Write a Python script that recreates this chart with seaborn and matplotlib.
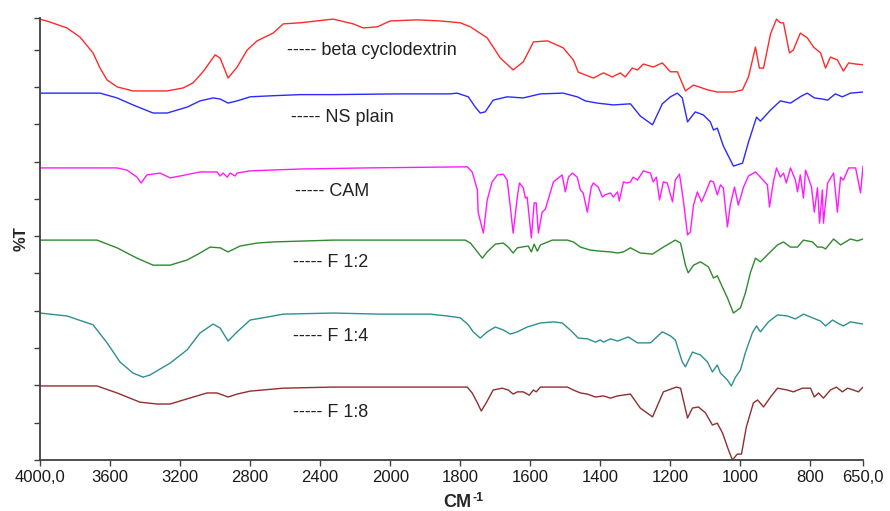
import numpy as np
import pandas as pd
import matplotlib
matplotlib.use('Agg')
import matplotlib.pyplot as plt
import seaborn as sns

# FTIR spectra, wavenumber (cm-1) vs %T (traces stacked with offsets)
wn_beta = [4000, 3943, 3846, 3771, 3697, 3657, 3617, 3560, 3469, 3274, 3183, 3126, 3069, 3000, 2971, 2926, 2874, 2817,
           2760, 2669, 2611, 2514, 2326, 2211, 2154, 2074, 2000, 1923, 1857, 1800, 1771, 1723, 1686, 1649, 1620, 1591,
           1551, 1506, 1477, 1463, 1420, 1391, 1366, 1343, 1329, 1309, 1294, 1277, 1249, 1223, 1200, 1180, 1157, 1134,
           1094, 1066, 1020, 994, 977, 957, 946, 934, 914, 897, 886, 877, 860, 849, 829, 809, 791, 771, 757, 743, 723,
           706, 691, 671, 650]
t_beta = [119.7, 118.9, 117.3, 114.8, 110.5, 106.4, 103.2, 101.3, 100.2, 100.2, 101.0, 102.4, 105.4, 110.0, 109.1,
          103.7, 106.7, 111.3, 113.8, 115.9, 118.4, 118.7, 119.7, 118.4, 117.3, 117.6, 119.2, 119.5, 119.2, 118.7,
          117.6, 114.6, 109.2, 105.9, 108.1, 113.5, 113.8, 111.9, 108.6, 105.3, 103.7, 105.1, 104.0, 105.1, 104.0,
          106.4, 105.9, 107.5, 106.7, 107.8, 105.4, 105.4, 100.2, 101.8, 100.5, 99.9, 99.9, 100.5, 104.0, 112.1,
          106.4, 106.4, 115.7, 119.7, 118.7, 118.7, 110.5, 111.3, 115.9, 114.6, 112.1, 110.5, 106.4, 109.4, 108.6,
          105.6, 107.8, 107.5, 107.3]

wn_ns = [4000, 3846, 3657, 3560, 3469, 3354, 3274, 3160, 3086, 3011, 2971, 2926, 2874, 2800, 2669, 2514, 2326, 1971,
         1829, 1809, 1777, 1757, 1743, 1729, 1706, 1666, 1620, 1571, 1506, 1466, 1443, 1409, 1363, 1314, 1286, 1251,
         1223, 1200, 1180, 1166, 1151, 1129, 1106, 1086, 1077, 1066, 1049, 1020, 994, 977, 954, 943, 914, 886, 857,
         826, 809, 789, 766, 751, 729, 709, 686, 650]
t_ns = [99.6, 99.6, 99.6, 98.3, 96.4, 94.2, 94.2, 95.8, 97.5, 98.3, 98.0, 96.9, 97.5, 98.6, 98.9, 99.2, 99.2, 99.4,
        99.4, 99.6, 98.6, 95.8, 94.2, 94.5, 97.7, 98.6, 98.3, 99.4, 99.6, 98.6, 97.5, 96.9, 96.4, 96.7, 93.4, 91.0,
        96.7, 98.6, 99.6, 98.3, 91.8, 94.5, 93.7, 91.8, 89.6, 90.1, 85.3, 79.8, 80.6, 86.3, 93.1, 92.0, 95.0, 97.5,
        96.9, 98.8, 99.6, 98.3, 98.0, 97.7, 99.4, 98.6, 99.6, 99.9]

wn_cam = [4000, 3560, 3503, 3446, 3423, 3389, 3314, 3257, 3200, 3086, 2989, 2971, 2954, 2931, 2914, 2886, 2874, 2800,
          2514, 2131, 1780, 1766, 1751, 1749, 1734, 1723, 1709, 1694, 1677, 1666, 1657, 1649, 1637, 1631, 1620, 1614,
          1609, 1597, 1589, 1583, 1577, 1566, 1557, 1534, 1509, 1500, 1491, 1480, 1466, 1457, 1449, 1437, 1426, 1420,
          1406, 1394, 1386, 1371, 1363, 1351, 1346, 1334, 1323, 1314, 1306, 1294, 1277, 1257, 1249, 1240, 1231, 1220,
          1209, 1194, 1186, 1174, 1163, 1151, 1143, 1134, 1123, 1111, 1100, 1086, 1077, 1066, 1057, 1049, 1037, 1029,
          1017, 1006, 991, 977, 957, 943, 923, 917, 906, 897, 886, 877, 869, 857, 843, 837, 829, 820, 814, 806, 797,
          789, 780, 774, 766, 763, 751, 734, 723, 714, 706, 691, 671, 657, 650]
t_cam = [79.3, 79.3, 78.7, 76.8, 75.2, 77.4, 77.9, 76.6, 77.1, 78.2, 78.2, 77.1, 77.9, 76.8, 77.9, 77.1, 77.9, 78.5,
         79.0, 79.3, 79.6, 78.2, 73.3, 67.3, 61.6, 70.6, 75.5, 77.4, 77.6, 76.0, 68.7, 61.6, 71.4, 75.2, 73.9, 71.1,
         71.4, 60.3, 69.8, 69.8, 61.6, 67.3, 68.1, 75.5, 77.4, 72.8, 76.8, 77.9, 76.8, 73.3, 72.5, 67.3, 74.1, 75.2,
         74.1, 71.4, 72.0, 72.5, 71.4, 72.8, 70.3, 75.5, 75.2, 75.5, 76.8, 76.0, 78.5, 77.9, 75.5, 76.8, 70.6, 75.5,
         75.2, 70.1, 76.0, 77.6, 70.6, 61.1, 61.9, 69.2, 72.8, 70.1, 72.5, 75.8, 75.5, 72.0, 74.7, 73.9, 63.3, 69.2,
         74.1, 69.2, 74.1, 77.1, 78.2, 76.8, 74.7, 68.7, 75.5, 79.3, 76.8, 77.9, 75.2, 79.3, 76.0, 72.8, 77.4, 71.1,
         78.7, 76.6, 74.1, 67.3, 73.9, 64.3, 73.3, 64.3, 75.2, 77.9, 67.3, 76.8, 76.0, 79.3, 79.3, 72.5, 79.8]

wn_f12 = [4000, 3674, 3560, 3446, 3354, 3257, 3160, 3086, 3029, 2971, 2926, 2857, 2760, 2669, 2326, 1786, 1771, 1751,
          1737, 1723, 1700, 1677, 1663, 1649, 1637, 1606, 1597, 1589, 1580, 1571, 1537, 1494, 1477, 1457, 1429, 1400,
          1371, 1351, 1334, 1314, 1286, 1251, 1220, 1186, 1171, 1157, 1149, 1134, 1114, 1091, 1077, 1066, 1057, 1037,
          1020, 1000, 986, 971, 957, 943, 923, 894, 877, 857, 837, 820, 794, 780, 766, 757, 734, 714, 686, 666, 650]
t_f12 = [59.7, 59.7, 57.6, 54.8, 52.9, 52.9, 54.3, 56.2, 57.8, 57.6, 56.5, 58.1, 58.9, 59.2, 59.7, 59.7, 58.9, 56.5,
         54.8, 56.5, 58.6, 58.9, 57.8, 56.2, 57.6, 58.1, 56.5, 58.6, 56.7, 58.4, 59.7, 59.7, 59.2, 57.8, 57.0, 56.7,
         56.5, 56.2, 56.5, 57.6, 56.2, 55.9, 57.8, 59.7, 58.9, 52.9, 50.8, 52.9, 53.8, 52.4, 49.4, 50.0, 48.1, 44.0,
         39.9, 41.3, 45.3, 51.0, 54.8, 53.8, 55.7, 58.4, 59.2, 57.8, 57.8, 59.7, 59.2, 57.8, 57.8, 57.3, 60.0, 58.4,
         60.0, 59.5, 60.0]

wn_f14 = [4000, 3846, 3697, 3617, 3543, 3469, 3411, 3371, 3257, 3160, 3086, 3011, 2971, 2926, 2874, 2800, 2703, 2611,
          2326, 2057, 1886, 1837, 1800, 1777, 1763, 1743, 1723, 1700, 1677, 1657, 1637, 1609, 1571, 1534, 1509, 1486,
          1463, 1437, 1414, 1400, 1391, 1371, 1351, 1320, 1294, 1257, 1223, 1200, 1186, 1166, 1157, 1137, 1114, 1094,
          1080, 1066, 1057, 1037, 1026, 1014, 1000, 986, 966, 954, 943, 920, 894, 866, 843, 820, 794, 771, 757, 737,
          723, 706, 686, 650]
t_f14 = [39.9, 39.1, 36.7, 31.8, 26.6, 23.6, 22.5, 23.1, 26.3, 29.9, 34.5, 36.9, 35.8, 32.3, 34.8, 38.0, 38.8, 39.6,
         39.9, 39.6, 39.6, 39.1, 38.6, 36.7, 34.8, 33.1, 34.8, 36.1, 35.3, 34.2, 34.8, 36.1, 37.2, 37.5, 37.2, 35.3,
         33.1, 32.9, 32.0, 32.6, 32.0, 32.9, 32.3, 33.4, 31.8, 31.8, 34.8, 33.7, 32.6, 26.6, 25.3, 29.3, 28.5, 26.6,
         23.9, 25.8, 23.6, 21.7, 20.1, 22.5, 24.4, 29.1, 34.5, 36.4, 34.8, 37.5, 39.4, 39.1, 38.3, 39.6, 38.6, 37.7,
         36.4, 38.0, 37.2, 36.4, 37.5, 36.9]

wn_f18 = [4000, 3674, 3560, 3429, 3331, 3257, 3160, 3046, 2989, 2954, 2926, 2874, 2800, 2611, 2326, 1780, 1766, 1751,
          1740, 1726, 1706, 1680, 1663, 1649, 1637, 1620, 1603, 1591, 1583, 1571, 1494, 1477, 1457, 1437, 1414, 1391,
          1371, 1351, 1314, 1286, 1251, 1220, 1183, 1171, 1151, 1137, 1120, 1100, 1080, 1066, 1051, 1034, 1023, 1009,
          997, 983, 963, 951, 934, 914, 894, 866, 849, 823, 800, 789, 777, 763, 743, 726, 709, 694, 677, 663, 650]
t_f18 = [20.1, 20.1, 18.2, 15.7, 15.2, 15.2, 16.6, 18.2, 18.2, 17.6, 17.1, 17.9, 18.7, 19.5, 19.8, 19.8, 18.2, 15.5,
         13.3, 15.5, 19.0, 19.5, 19.0, 17.9, 18.5, 18.5, 17.6, 19.0, 18.5, 19.8, 19.8, 19.0, 18.2, 17.9, 17.1, 17.4,
         16.8, 17.4, 17.9, 14.1, 11.7, 18.5, 19.8, 19.5, 11.4, 14.1, 14.4, 12.8, 9.5, 10.0, 7.3, 2.7, 0.0, 1.6, 1.6,
         9.0, 15.5, 16.3, 14.4, 17.1, 19.5, 19.0, 18.5, 19.5, 19.5, 17.1, 18.2, 16.8, 19.0, 19.8, 18.5, 19.5, 19.0,
         18.5, 19.8]

samples = ['beta cyclodextrin', 'NS plain', 'CAM', 'F 1:2', 'F 1:4', 'F 1:8']
all_wn = [wn_beta, wn_ns, wn_cam, wn_f12, wn_f14, wn_f18]
all_t = [t_beta, t_ns, t_cam, t_f12, t_f14, t_f18]

x_ticks = [4000, 3600, 3200, 2800, 2400, 2000, 1800, 1600, 1400, 1200, 1000, 800, 650]
x_ticklabels = ['4000,0', '3600', '3200', '2800', '2400', '2000', '1800', '1600', '1400', '1200', '1000', '800',
                '650,0']

frames = []
for name, wn, t in zip(samples, all_wn, all_t):
    frames.append(pd.DataFrame({'wavenumber': wn, 'T': t, 'sample': name}))
spectra = pd.concat(frames, ignore_index=True)

sns.set_theme(style='ticks')
plt.rcParams['font.family'] = ['Liberation Sans', 'DejaVu Sans']

colors = {'beta cyclodextrin': '#ff2a2a', 'NS plain': '#2a2aff', 'CAM': '#ff1aff',
          'F 1:2': '#2f8a2f', 'F 1:4': '#2f8f8f', 'F 1:8': '#8f2f2f'}

fig = plt.figure(figsize=(8.9, 5.11), dpi=100)
ax = fig.add_axes([40 / 890, 51 / 511, 823 / 890, 442 / 511])

sns.lineplot(data=spectra, x='wavenumber', y='T', hue='sample', palette=colors, estimator=None,
             legend=False, linewidth=1.0, solid_joinstyle='round', ax=ax)


# spectrometer style axis: the region below 2000 cm-1 is stretched 2x
def expand_fwd(x):
    x = np.asarray(x, dtype=float)
    return np.where(x > 2000, 2000 + (x - 2000) / 2, x)


def expand_inv(u):
    u = np.asarray(u, dtype=float)
    return np.where(u > 2000, 2000 + (u - 2000) * 2, u)


ax.set_xscale('function', functions=(expand_fwd, expand_inv))
ax.set_xlim(4000, 650)
ax.set_ylim(0, 120)
ax.set_xticks(x_ticks, x_ticklabels)
ax.set_yticks(list(np.linspace(0, 111.4, 12)) + [120])
ax.set_yticklabels([])
ax.minorticks_off()

sns.despine(ax=ax)
for side in ['left', 'bottom']:
    ax.spines[side].set_color('#404040')
    ax.spines[side].set_linewidth(1.3)
ax.tick_params(direction='out', length=4, width=1, color='#404040', labelsize=12, labelcolor='#1a1a1a', pad=3)

# axis titles: CM with a raised -1, and %T
ax.set_xlabel('CM', fontsize=13, fontweight='bold')
ax.xaxis.set_label_coords(0.507, -0.078)
ax.text(0.532, -0.072, '-1', transform=ax.transAxes, fontsize=9, fontweight='bold', ha='center', va='top')
ax.set_ylabel('%T', fontsize=12, fontweight='bold')
ax.yaxis.set_label_coords(-0.014, 0.5)

# sample names written next to each trace
label_x = [2590, 2566, 2543, 2554, 2554, 2554]
label_y = [111.3, 92.9, 72.8, 53.5, 33.4, 13.0]
for name, lx, ly in zip(samples, label_x, label_y):
    ax.text(lx, ly, '----- ' + name, fontsize=13, color='#222222', va='center', ha='left')

plt.savefig('out.png', dpi=100)
plt.close()
